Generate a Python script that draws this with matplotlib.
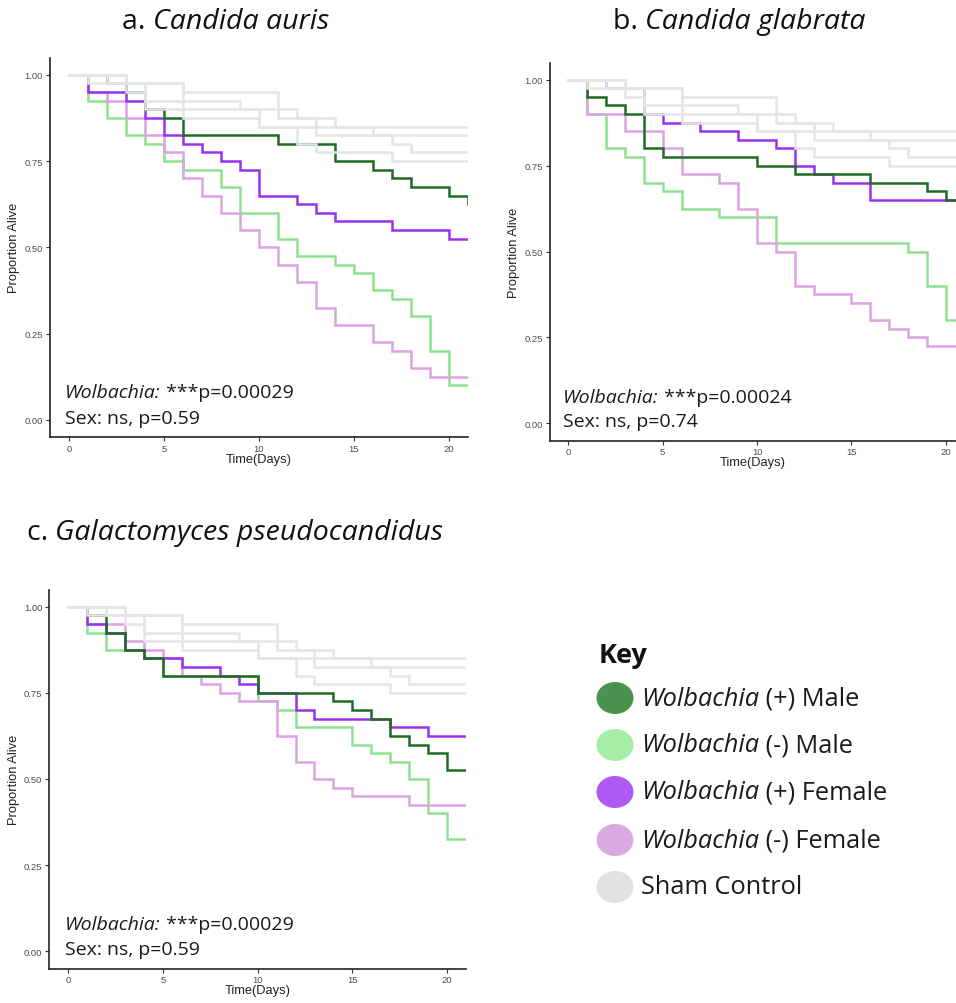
import matplotlib
matplotlib.use("Agg")
import matplotlib.pyplot as plt
from matplotlib.patches import Ellipse

W, H = 956, 1004
DAY_END = 21

# ---------------- data ----------------
# Sham controls (same four curves shown in every panel)
SHAM1_T = [0, 1, 4, 9, 10]
SHAM1_S = [1.0, 0.975, 0.925, 0.9, 0.85]
SHAM2_T = [0, 3, 4, 12, 14, 16]
SHAM2_S = [1.0, 0.95, 0.9, 0.875, 0.85, 0.825]
SHAM3_T = [0, 2, 6, 10, 12, 13, 17]
SHAM3_S = [1.0, 0.975, 0.875, 0.85, 0.8, 0.775, 0.75]
SHAM4_T = [0, 3, 6, 11, 13, 17, 18]
SHAM4_S = [1.0, 0.975, 0.95, 0.875, 0.825, 0.8, 0.775]

# a. Candida auris
A_WPM_T = [0, 2, 3, 4, 5, 6, 11, 14, 16, 17, 18, 20, 21]
A_WPM_S = [1.0, 0.975, 0.95, 0.9, 0.875, 0.825, 0.8, 0.75, 0.725, 0.7, 0.675, 0.65, 0.625]
A_WMM_T = [0, 1, 2, 3, 4, 5, 6, 8, 9, 11, 12, 14, 15, 16, 17, 18, 19, 20]
A_WMM_S = [1.0, 0.925, 0.875, 0.825, 0.8, 0.75, 0.725, 0.675, 0.6, 0.525, 0.475,
           0.45, 0.425, 0.375, 0.35, 0.3, 0.2, 0.1]
A_WPF_T = [0, 1, 3, 4, 5, 6, 7, 8, 9, 10, 12, 13, 14, 17, 20]
A_WPF_S = [1.0, 0.95, 0.925, 0.875, 0.825, 0.8, 0.775, 0.75, 0.725, 0.65, 0.625,
           0.6, 0.575, 0.55, 0.525]
A_WMF_T = [0, 1, 2, 3, 4, 5, 6, 7, 8, 9, 10, 11, 12, 13, 14, 16, 17, 18, 19]
A_WMF_S = [1.0, 0.95, 0.925, 0.875, 0.825, 0.775, 0.7, 0.65, 0.6, 0.55, 0.5, 0.45,
           0.4, 0.325, 0.275, 0.225, 0.2, 0.15, 0.125]

# b. Candida glabrata
B_WPM_T = [0, 1, 2, 3, 4, 5, 10, 12, 16, 19, 20]
B_WPM_S = [1.0, 0.95, 0.925, 0.9, 0.8, 0.775, 0.75, 0.725, 0.7, 0.675, 0.65]
B_WMM_T = [0, 1, 2, 3, 4, 5, 6, 8, 11, 18, 19, 20]
B_WMM_S = [1.0, 0.9, 0.8, 0.775, 0.7, 0.675, 0.625, 0.6, 0.525, 0.5, 0.4, 0.3]
B_WPF_T = [0, 2, 4, 5, 7, 9, 11, 12, 13, 14, 16]
B_WPF_S = [1.0, 0.975, 0.9, 0.875, 0.85, 0.825, 0.8, 0.75, 0.725, 0.7, 0.65]
B_WMF_T = [0, 1, 3, 5, 6, 8, 9, 10, 11, 12, 13, 15, 16, 17, 18, 19]
B_WMF_S = [1.0, 0.9, 0.85, 0.8, 0.725, 0.7, 0.625, 0.525, 0.5, 0.4, 0.375, 0.35,
           0.3, 0.275, 0.25, 0.225]

# c. Galactomyces pseudocandidus
C_WPM_T = [0, 1, 2, 3, 4, 5, 10, 14, 15, 16, 17, 18, 19, 20]
C_WPM_S = [1.0, 0.975, 0.925, 0.875, 0.85, 0.8, 0.75, 0.725, 0.7, 0.675, 0.625,
           0.6, 0.575, 0.525]
C_WMM_T = [0, 1, 2, 4, 5, 10, 11, 12, 15, 16, 17, 18, 19, 20]
C_WMM_S = [1.0, 0.925, 0.875, 0.85, 0.8, 0.725, 0.7, 0.65, 0.6, 0.575, 0.55, 0.5,
           0.4, 0.325]
C_WPF_T = [0, 1, 2, 3, 4, 6, 8, 9, 10, 12, 13, 17, 19]
C_WPF_S = [1.0, 0.95, 0.925, 0.875, 0.85, 0.825, 0.8, 0.775, 0.75, 0.7, 0.675,
           0.65, 0.625]
C_WMF_T = [0, 1, 3, 4, 5, 6, 7, 8, 9, 11, 12, 13, 14, 15, 18]
C_WMF_S = [1.0, 0.95, 0.9, 0.875, 0.85, 0.8, 0.775, 0.75, 0.725, 0.625, 0.55,
           0.5, 0.475, 0.45, 0.425]

PANEL_TITLES = ["Candida auris", "Candida glabrata", "Galactomyces pseudocandidus"]
PANEL_LETTERS = ["a.", "b.", "c."]
WOLB_P = ["***p=0.00029", "***p=0.00024", "***p=0.00029"]
SEX_P = ["Sex: ns, p=0.59", "Sex: ns, p=0.74", "Sex: ns, p=0.59"]

KEY_LABELS = ["(+) Male", "(-) Male", "(+) Female", "(-) Female", "Sham Control"]

# ---------------- style ----------------
C_DG = "#1f6b22"
C_LG = "#8fe08f"
C_PU = "#9932f0"
C_PK = "#dba3e0"
C_GR = "#e5e5e5"
KEY_COLORS = ["#4a924e", "#a6eea6", "#b05af5", "#dca8e3", "#e2e2e2"]

TEXT_FONT = "Open Sans"
AX_FONT = "Liberation Sans"

fig = plt.figure(figsize=(W / 100, H / 100), dpi=100)


def add_axes_px(left, right, bottom, top):
    return fig.add_axes([left / W, 1 - bottom / H, (right - left) / W, (bottom - top) / H])


def step_curve(ax, t, s, color, lw, z):
    tt = list(t) + [DAY_END]
    ss = list(s) + [s[-1]]
    ax.step(tt, ss, where="post", color=color, lw=lw, zorder=z,
            solid_joinstyle="miter", solid_capstyle="projecting", clip_on=True)


def fig_text_px(x, y, s, **kw):
    return fig.text(x / W, 1 - y / H, s, **kw)


renderer = fig.canvas.get_renderer()


def mixed_line(x, y, parts, size, weight="normal"):
    """parts: list of (text, style). x,y in px (y = vertical centre)."""
    cur = x
    for txt, style in parts:
        t = fig_text_px(cur, y, txt, fontsize=size, style=style, family=TEXT_FONT,
                        va="center", ha="left", color="#1a1a1a", fontweight=weight)
        bb = t.get_window_extent(renderer)
        cur = bb.x1


panels = [
    dict(box=(50, 467.5, 438, 58.5), xlim=(-1.0, 21.0), ylim=(-0.05, 1.05),
         series=[(A_WMM_T, A_WMM_S, C_LG), (A_WMF_T, A_WMF_S, C_PK),
                 (A_WPF_T, A_WPF_S, C_PU), (A_WPM_T, A_WPM_S, C_DG)],
         ann=(65, 393, 419), title=(226, 22)),
    dict(box=(550, 956, 441.5, 63.5), xlim=(-0.97, 20.54), ylim=(-0.05, 1.05),
         series=[(B_WMM_T, B_WMM_S, C_LG), (B_WMF_T, B_WMF_S, C_PK),
                 (B_WPF_T, B_WPF_S, C_PU), (B_WPM_T, B_WPM_S, C_DG)],
         ann=(563, 398, 422), title=(739, 22)),
    dict(box=(49.3, 466, 969.5, 590.5), xlim=(-1.0, 21.0), ylim=(-0.05, 1.05),
         series=[(C_WMM_T, C_WMM_S, C_LG), (C_WMF_T, C_WMF_S, C_PK),
                 (C_WPF_T, C_WPF_S, C_PU), (C_WPM_T, C_WPM_S, C_DG)],
         ann=(65, 925, 950), title=(235, 533)),
]

sham = [(SHAM1_T, SHAM1_S), (SHAM2_T, SHAM2_S), (SHAM3_T, SHAM3_S), (SHAM4_T, SHAM4_S)]

for i, p in enumerate(panels):
    l, r, b, t = p["box"]
    ax = add_axes_px(l, r, b, t)
    ax.set_xlim(*p["xlim"])
    ax.set_ylim(*p["ylim"])
    for z, (tt, ss, col) in enumerate(p["series"]):
        step_curve(ax, tt, ss, col, 1.8, 3 + z)
    for tt, ss in sham:
        step_curve(ax, tt, ss, C_GR, 1.8, 10)
    for side in ["top", "right"]:
        ax.spines[side].set_visible(False)
    for side in ["left", "bottom"]:
        ax.spines[side].set_linewidth(1.2)
        ax.spines[side].set_color("#222222")
    ax.set_xticks([0, 5, 10, 15, 20])
    ax.set_yticks([0, 0.25, 0.5, 0.75, 1.0])
    ax.set_yticklabels(["0.00", "0.25", "0.50", "0.75", "1.00"])
    ax.tick_params(axis="both", length=3, width=0.8, color="#333333",
                   labelsize=6.8, labelcolor="#4d4d4d", pad=2)
    for lab in ax.get_xticklabels() + ax.get_yticklabels():
        lab.set_family(AX_FONT)
    ax.set_xlabel("Time(Days)", fontsize=9.3, family=AX_FONT, labelpad=0, color="#222222")
    ax.set_ylabel("Proportion Alive", fontsize=9.3, family=AX_FONT, labelpad=3, color="#222222")
    ax.patch.set_alpha(0)

    ax_x, y1, y2 = p["ann"]
    mixed_line(ax_x, y1, [("Wolbachia:", "italic"), (" " + WOLB_P[i], "normal")], 14)
    mixed_line(ax_x, y2, [(SEX_P[i], "normal")], 14)

    tx, ty = p["title"]
    t1 = fig_text_px(0, ty, PANEL_LETTERS[i] + " ", fontsize=20.5, family=TEXT_FONT,
                     va="center", color="#111111")
    t2 = fig_text_px(0, ty, PANEL_TITLES[i], fontsize=20.5, family=TEXT_FONT,
                     style="italic", va="center", color="#111111")
    w1 = t1.get_window_extent(renderer).width
    w2 = t2.get_window_extent(renderer).width
    x0 = tx - (w1 + w2) / 2
    t1.set_position((x0 / W, 1 - ty / H))
    t2.set_position(((x0 + w1) / W, 1 - ty / H))

# ---------------- key ----------------
fig_text_px(599, 656, "Key", fontsize=19.5, fontweight="bold", family=TEXT_FONT,
            va="center", ha="left", color="#111111")
key_y = [699, 746, 793, 841, 888]
for j, (lab, col) in enumerate(zip(KEY_LABELS, KEY_COLORS)):
    cy = key_y[j]
    e = Ellipse((615 / W, 1 - cy / H), 37 / W, 32 / H, transform=fig.transFigure,
                facecolor=col, edgecolor="none")
    fig.patches.append(e)
    if j < 4:
        mixed_line(641, cy, [("Wolbachia", "italic"), (" " + lab, "normal")], 18.3)
    else:
        mixed_line(641, cy, [(lab, "normal")], 18.3)

fig.savefig("out.png", dpi=100)
